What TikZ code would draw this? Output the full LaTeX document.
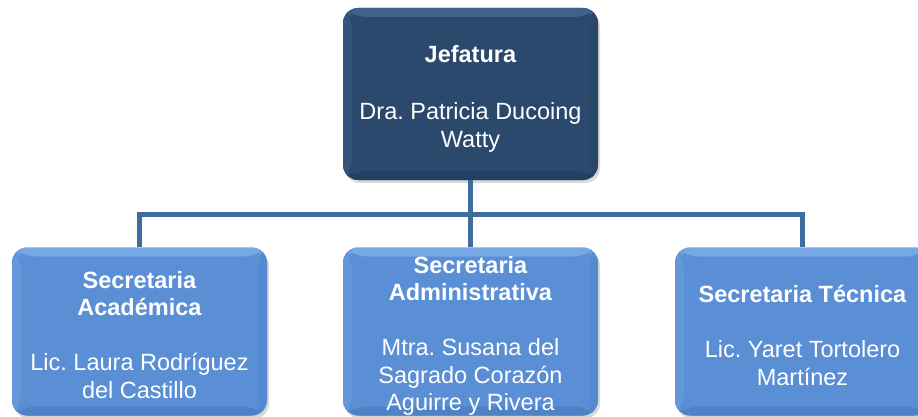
\documentclass[tikz,border=0pt]{standalone}
\usepackage{fontspec}
\setmainfont{Liberation Sans}
\usetikzlibrary{shadows}
\frenchspacing
\definecolor{topface}{HTML}{2B496D}
\definecolor{toptopb}{HTML}{3F618A}
\definecolor{topleftb}{HTML}{33547B}
\definecolor{topbotb}{HTML}{243F60}
\definecolor{toprightb}{HTML}{294568}
\definecolor{subface}{HTML}{5A8ED5}
\definecolor{subtopb}{HTML}{77A8E5}
\definecolor{subleftb}{HTML}{6598DB}
\definecolor{subbotb}{HTML}{4F81C6}
\definecolor{subrightb}{HTML}{5588CE}
\definecolor{linec}{HTML}{3F6E9E}
\newcommand{\bevel}[4]{%
  \fill[#1] (path picture bounding box.north west) -- (path picture bounding box.north east)
    -- ([xshift=-9pt,yshift=-9pt]path picture bounding box.north east)
    -- ([xshift=9pt,yshift=-9pt]path picture bounding box.north west) -- cycle;
  \fill[#2] (path picture bounding box.north west) -- (path picture bounding box.south west)
    -- ([xshift=9pt,yshift=9pt]path picture bounding box.south west)
    -- ([xshift=9pt,yshift=-9pt]path picture bounding box.north west) -- cycle;
  \fill[#3] (path picture bounding box.south west) -- (path picture bounding box.south east)
    -- ([xshift=-9pt,yshift=9pt]path picture bounding box.south east)
    -- ([xshift=9pt,yshift=9pt]path picture bounding box.south west) -- cycle;
  \fill[#4] (path picture bounding box.north east) -- (path picture bounding box.south east)
    -- ([xshift=-9pt,yshift=9pt]path picture bounding box.south east)
    -- ([xshift=-9pt,yshift=-9pt]path picture bounding box.north east) -- cycle;
}
\tikzset{
  boxbase/.style={rounded corners=15pt, minimum width=255pt, inner sep=0pt,
    drop shadow={shadow xshift=2pt, shadow yshift=-3pt, opacity=0.3}},
  topbox/.style={boxbase, minimum height=172pt, fill=topface,
    path picture={\bevel{toptopb}{topleftb}{topbotb}{toprightb}}},
  subbox/.style={boxbase, minimum height=168pt, fill=subface,
    path picture={\bevel{subtopb}{subleftb}{subbotb}{subrightb}}},
  boxtext/.style={text=white, align=center, inner sep=0pt,
    font=\fontsize{23.5pt}{27.5pt}\selectfont},
  conn/.style={draw=linec, line width=5pt, line join=miter}
}
\begin{document}
\begin{tikzpicture}[x=1pt,y=-1pt]
\useasboundingbox (0,0) rectangle (918,417);
\begin{scope}
\clip (0,0) rectangle (918,417);
\node[topbox] (top) at (470.5,94) {};
\node[subbox] (acad) at (139.5,331.5) {};
\node[subbox] (admin) at (470.5,331.5) {};
\node[subbox] (tec) at (802.5,331.5) {};
\node[boxtext] (topt) at (470.5,99) {\textbf{Jefatura}\\[29.5pt]Dra. Patricia Ducoing\\Watty};
\node[boxtext] (acadt) at (139.5,335) {\textbf{Secretaria}\\\textbf{Académica}\\[27.5pt]Lic. Laura Rodríguez\\del Castillo};
\node[boxtext] (admint) at (470.5,336) {\textbf{Secretaria}\\\textbf{Administrativa}\\[27.5pt]Mtra. Susana del\\Sagrado Corazón\\Aguirre y Rivera};
\node[boxtext] (tect) at (802.5,335.5) {\textbf{Secretaria Técnica}\\[27.5pt]Lic. Yaret Tortolero\\Martínez};
\coordinate (j) at (470.5,214.5);
\draw[conn] (top.south) -- (admin.north);
\draw[conn] (acad.north) -- (acad.north |- j) -- (tec.north |- j) -- (tec.north);
\end{scope}
\end{tikzpicture}
\end{document}
